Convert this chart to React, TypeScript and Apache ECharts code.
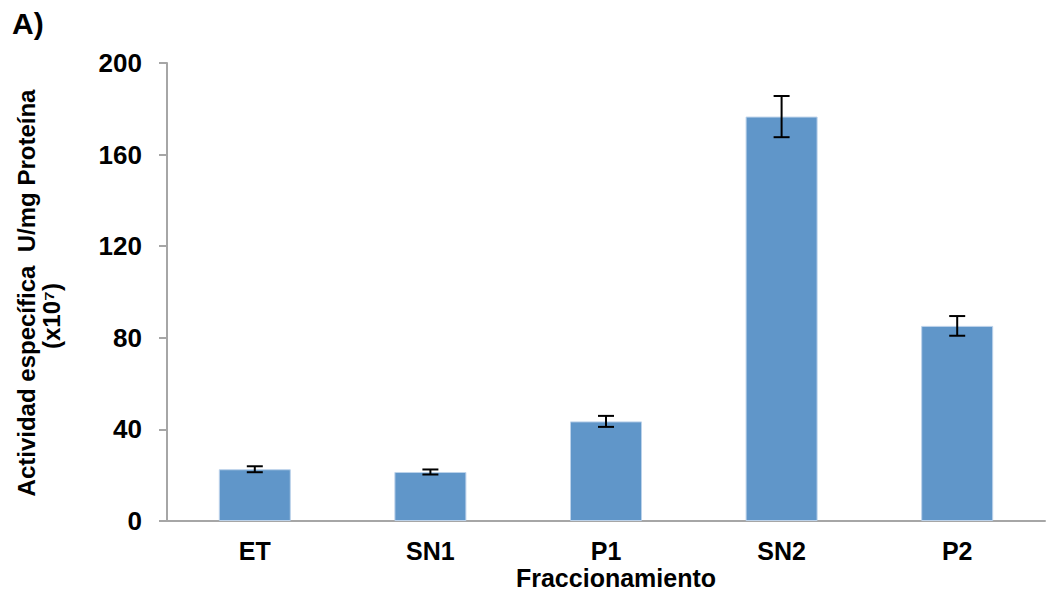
import React, { useEffect, useRef } from "react";
import * as echarts from "echarts";

const categories = ["ET", "SN1", "P1", "SN2", "P2"];
const values = [22.6, 21.4, 43.5, 176.6, 85.2];
const errors = [1.3, 1.1, 2.4, 9.0, 4.3];
const yTicks = { min: 0, max: 200, interval: 40 };

export default function App() {
  const ref = useRef<HTMLDivElement>(null);
  useEffect(() => {
    if (!ref.current) return;
    const chart = echarts.init(ref.current, undefined, { renderer: "svg" });
    const font = "'Liberation Sans', Arial, sans-serif";
    const errData = categories.map((c, i) => [i, values[i] - errors[i], values[i] + errors[i]]);
    chart.setOption({
      animation: false,
      backgroundColor: "#ffffff",
      grid: { left: 167, right: 10, top: 63, bottom: 71 },
      xAxis: {
        type: "category",
        data: categories,
        axisLine: { lineStyle: { color: "#a6a6a6", width: 2 } },
        axisTick: { show: false },
        axisLabel: {
          color: "#000",
          fontWeight: "bold",
          fontSize: 25,
          lineHeight: 25,
          fontFamily: font,
          margin: 17,
        },
      },
      yAxis: {
        type: "value",
        min: yTicks.min,
        max: yTicks.max,
        interval: yTicks.interval,
        axisLine: { show: true, lineStyle: { color: "#a6a6a6", width: 2 } },
        axisTick: { show: true, length: 8, lineStyle: { color: "#a6a6a6", width: 2 } },
        splitLine: { show: false },
        axisLabel: { color: "#000", fontWeight: "bold", fontSize: 26, fontFamily: font, margin: 25 },
      },
      series: [
        {
          type: "bar",
          data: values,
          barWidth: "41%",
          itemStyle: { color: "#6096c9", borderColor: "#bcd2ea", borderWidth: 1 },
        },
        {
          type: "custom",
          data: errData,
          z: 10,
          renderItem: (params: any, api: any) => {
            const x = api.value(0);
            const lo = api.coord([x, api.value(1)]);
            const hi = api.coord([x, api.value(2)]);
            const hw = 8;
            const st = { stroke: "#000", lineWidth: 2 };
            return {
              type: "group",
              children: [
                { type: "line", shape: { x1: lo[0], y1: lo[1], x2: hi[0], y2: hi[1] }, style: st },
                { type: "line", shape: { x1: lo[0] - hw, y1: lo[1], x2: lo[0] + hw, y2: lo[1] }, style: st },
                { type: "line", shape: { x1: hi[0] - hw, y1: hi[1], x2: hi[0] + hw, y2: hi[1] }, style: st },
              ],
            };
          },
        },
      ],
      graphic: [
        {
          type: "text",
          left: 12,
          top: 8,
          style: { text: "A)", font: `bold 30px ${font}`, fill: "#000" },
        },
        {
          type: "text",
          x: 26,
          y: 293,
          rotation: Math.PI / 2,
          style: {
            text: "Actividad específica  U/mg Proteína",
            font: `bold 24px ${font}`,
            fill: "#000",
            textAlign: "center",
            textVerticalAlign: "middle",
          },
        },
        {
          type: "text",
          x: 51,
          y: 316,
          rotation: Math.PI / 2,
          style: {
            text: "(x10⁷)",
            font: `bold 24px ${font}`,
            fill: "#000",
            textAlign: "center",
            textVerticalAlign: "middle",
          },
        },
        {
          type: "text",
          x: 616,
          y: 578,
          style: {
            text: "Fraccionamiento",
            font: `bold 25px ${font}`,
            fill: "#000",
            textAlign: "center",
            textVerticalAlign: "middle",
          },
        },
      ],
    });
    return () => chart.dispose();
  }, []);
  return <div ref={ref} style={{ width: 1055, height: 592, position: "absolute", left: 0, top: 0 }} />;
}
